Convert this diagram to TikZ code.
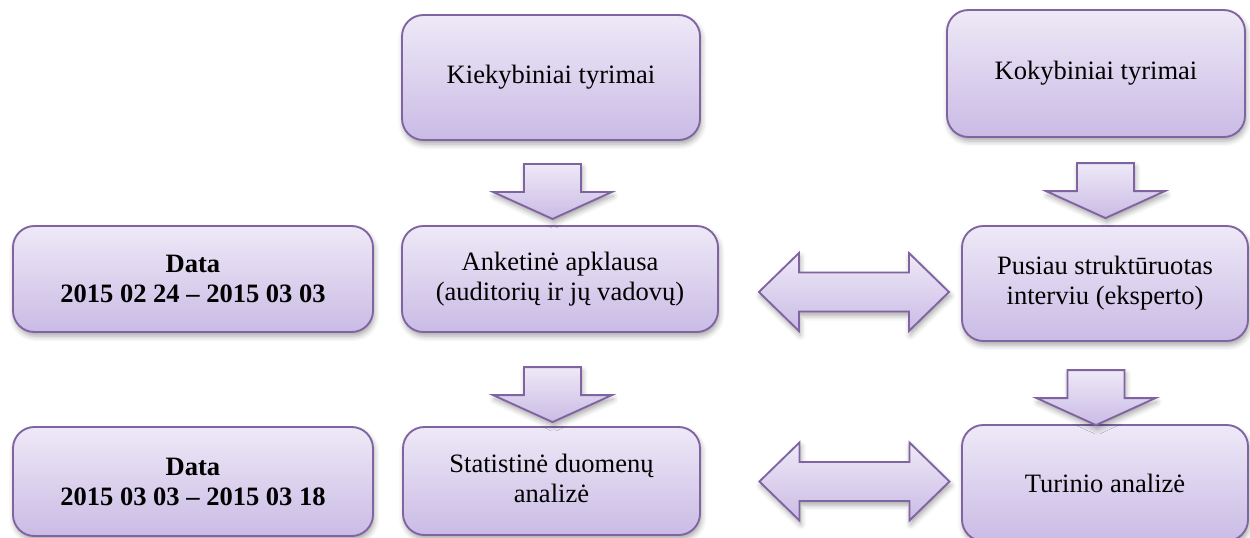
\documentclass[tikz,border=0pt]{standalone}
\usepackage{fontspec}
\setmainfont{Liberation Serif}
\usetikzlibrary{calc,shadows.blur}

\definecolor{boxline}{RGB}{128,100,162}
\definecolor{boxtop}{RGB}{238,233,247}
\definecolor{boxbot}{RGB}{202,187,229}

\tikzset{
  softshadow/.style={blur shadow={shadow xshift=1pt, shadow yshift=-3pt,
      shadow blur radius=4pt, shadow opacity=35}},
  card/.style={draw=boxline, line width=1.4pt, rounded corners=16pt,
      top color=boxtop, bottom color=boxbot, inner sep=0pt, align=center,
      font=\fontsize{19.9}{22.5}\selectfont, softshadow},
  blockarrow/.style={draw=boxline, line width=1.4pt, line join=miter,
      top color=boxtop, bottom color=boxbot, softshadow},
  % downward block arrow, anchored at the middle of its top edge
  downarrow/.pic={
    \path[blockarrow] (-28.5,0) -- (28.5,0) -- (28.5,28) -- (59.5,28)
      -- (0,55) -- (-59.5,28) -- (-28.5,28) -- cycle;
  },
  % left-right block arrow, anchored at its centre
  twowayarrow/.pic={
    \path[blockarrow] (-95,0) -- (-55,-39) -- (-55,-19.5) -- (55,-19.5)
      -- (55,-39) -- (95,0) -- (55,39) -- (55,19.5) -- (-55,19.5)
      -- (-55,39) -- cycle;
  }
}

\begin{document}
\begin{tikzpicture}[x=0.75pt,y=-0.75pt]
  \useasboundingbox (0,0) rectangle (1250,537);

  % top row
  \node[card, minimum width=223.5pt, minimum height=93.75pt] (kiek) at (551,77.5)
    {\raisebox{-2.5pt}{Kiekybiniai tyrimai}};
  \node[card, minimum width=223.5pt, minimum height=95.25pt] (koky) at (1096,73.5)
    {\raisebox{-2pt}{Kokybiniai tyrimai}};

  % middle row
  \node[card, minimum width=270pt, minimum height=79.5pt] (data1) at (193,279)
    {\textbf{Data}\\\textbf{2015 02 24 – 2015 03 03}};
  \node[card, minimum width=237pt, minimum height=79.5pt] (anket) at (560,279)
    {Anketinė apklausa\\(auditorių ir jų vadovų)};
  \node[card, minimum width=214.5pt, minimum height=86.25pt] (pusiau) at (1105,283.5)
    {Pusiau struktūruotas\\interviu (eksperto)};

  % bottom row
  \node[card, minimum width=270pt, minimum height=81.75pt] (data2) at (193,481.5)
    {\textbf{Data}\\\textbf{2015 03 03 – 2015 03 18}};
  \node[card, minimum width=222.75pt, minimum height=81pt] (stat) at (551.5,481)
    {\raisebox{5pt}{\begin{tabular}{@{}c@{}}Statistinė duomenų\\analizė\end{tabular}}};
  \node[card, minimum width=214.5pt, minimum height=87pt] (turin) at (1105,483)
    {Turinio analizė};

  % vertical flow
  \pic at ($(kiek.south)+(1.5,23)$) {downarrow};
  \pic at ($(pusiau.north)+(0.5,-62)$) {downarrow};
  \pic at ($(stat.north)+(1,-59)$) {downarrow};
  \pic at ($(turin.north)+(-9,-54)$) {downarrow};

  % links between the two methods
  \pic at ($(anket.east)+(135,13)$) {twowayarrow};
  \pic at ($(stat.east)+(153.5,0.5)$) {twowayarrow};
\end{tikzpicture}
\end{document}
